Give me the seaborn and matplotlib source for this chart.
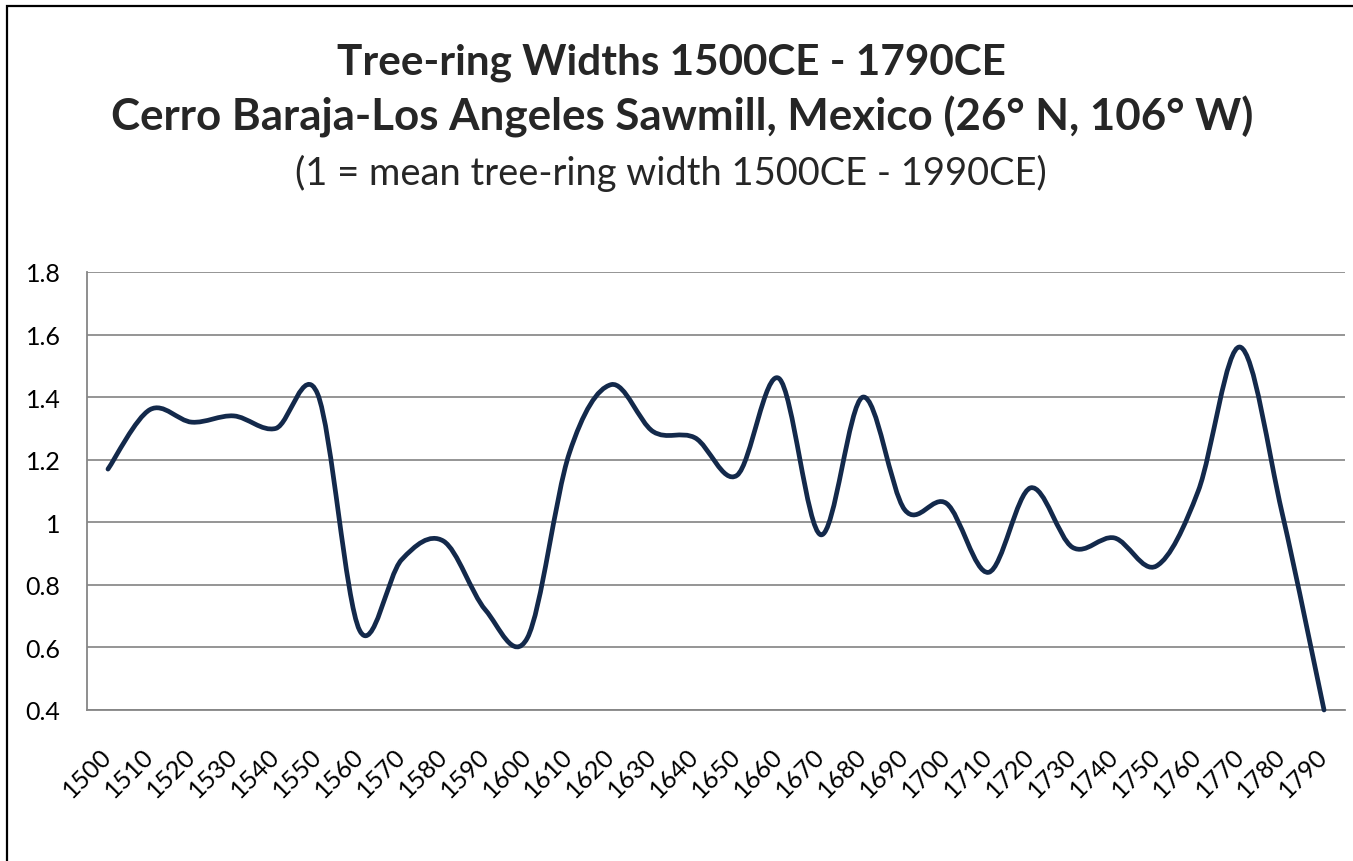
import numpy as np
import seaborn as sns
import matplotlib as mpl
mpl.use("Agg")
import matplotlib.pyplot as plt
from matplotlib.path import Path
from matplotlib.patches import PathPatch, Rectangle


# data (one value per decade)
years = [1500, 1510, 1520, 1530, 1540, 1550, 1560, 1570, 1580, 1590,
         1600, 1610, 1620, 1630, 1640, 1650, 1660, 1670, 1680, 1690,
         1700, 1710, 1720, 1730, 1740, 1750, 1760, 1770, 1780, 1790]
widths = [1.17, 1.36, 1.32, 1.34, 1.30, 1.41, 0.655, 0.88, 0.94, 0.72,
          0.63, 1.22, 1.44, 1.29, 1.27, 1.15, 1.46, 0.96, 1.40, 1.04,
          1.06, 0.84, 1.11, 0.92, 0.95, 0.86, 1.10, 1.56, 1.03, 0.40]
y_ticks = [0.4, 0.6, 0.8, 1.0, 1.2, 1.4, 1.6, 1.8]
y_labels = ["0.4", "0.6", "0.8", "1", "1.2", "1.4", "1.6", "1.8"]
title1 = "Tree-ring Widths 1500CE - 1790CE"
title2 = "Cerro Baraja-Los Angeles Sawmill, Mexico (26° N, 106° W)"
title3 = "(1 = mean tree-ring width 1500CE - 1990CE)"

W, H = 1353, 862
line_color = "#13294b"
grid_color = "#8c8c8c"


def smooth_path(x, y):
    # excel style smoothed line: catmull-rom segments as cubic beziers
    x = np.asarray(x, float)
    y = np.asarray(y, float)
    px = np.concatenate([[x[0]], x, [x[-1]]])
    py = np.concatenate([[y[0]], y, [y[-1]]])
    verts = [(x[0], y[0])]
    codes = [Path.MOVETO]
    for i in range(len(x) - 1):
        c1 = (px[i+1] + (px[i+2] - px[i]) / 6, py[i+1] + (py[i+2] - py[i]) / 6)
        c2 = (px[i+2] - (px[i+3] - px[i+1]) / 6, py[i+2] - (py[i+3] - py[i+1]) / 6)
        verts += [c1, c2, (x[i+1], y[i+1])]
        codes += [Path.CURVE4] * 3
    return Path(verts, codes)


sns.set_style("white")
plt.rcParams["font.family"] = ["Lato", "DejaVu Sans"]

fig = plt.figure(figsize=(W / 100, H / 100), dpi=100)
ax = fig.add_axes([87 / W, (H - 711) / H, (1345 - 87) / W, (711 - 273) / H])

ax.add_patch(PathPatch(smooth_path(years, widths), fill=False,
                       ec=line_color, lw=3.4, capstyle="round",
                       joinstyle="round", clip_on=False, zorder=3))

ax.set_xlim(1495, 1795)
ax.set_ylim(0.4, 1.8)
ax.set_yticks(y_ticks)
ax.set_yticklabels(y_labels)
ax.set_xticks(years)
ax.set_xticklabels([str(y) for y in years])
ax.yaxis.grid(True, color=grid_color, lw=1.3)
ax.xaxis.grid(False)
sns.despine(ax=ax, top=True, right=True)
for s in ["left", "bottom"]:
    ax.spines[s].set_color("#868686")
    ax.spines[s].set_linewidth(1.3)

ax.tick_params(axis="y", length=0, pad=19, labelsize=18, colors="black")
ax.tick_params(axis="x", length=0, pad=30, labelsize=18, colors="black")
for lab in ax.get_xticklabels():
    lab.set_rotation(45)
    lab.set_ha("right")
    lab.set_va("center")
    lab.set_rotation_mode("anchor")

# titles, sized to the widths they have in the original
renderer = fig.canvas.get_renderer()


def fit_text(xc, base, s, target_w, weight):
    t = fig.text(xc / W, 1 - base / H, s, ha="center", va="baseline",
                 fontsize=30, fontweight=weight)
    w = t.get_window_extent(renderer).width
    t.set_fontsize(30 * target_w / w)
    return t


fit_text(671, 74, title1, 669, "bold")
fit_text(682, 131, title2, 1142, "bold")
fit_text(671, 185, title3, 752, "normal")

# chart area border (only left and top edges show)
fig.patches.append(Rectangle((7 / W, -0.5), 2, (1 - 7 / H) + 0.5,
                             transform=fig.transFigure, fill=False,
                             ec="black", lw=1.6))

fig.savefig("out.png", dpi=100)
